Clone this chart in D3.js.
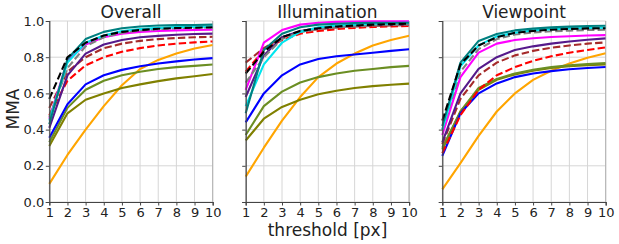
<!DOCTYPE html>
<html><head><meta charset="utf-8">
<script src="https://cdn.jsdelivr.net/npm/d3@7"></script>
<style>body{margin:0;background:#fff}svg{display:block}text{font-family:"DejaVu Sans",sans-serif;fill:#222}</style>
</head><body><svg id="c" width="619" height="244"></svg>
<script>
const thresholds = [1,2,3,4,5,6,7,8,9,10];
const yTicks = [0,0.2,0.4,0.6,0.8,1.0];
const panelTitles = ["Overall","Illumination","Viewpoint"];
const seriesNames = ["orange","olive","olivedrab","blue","red","brown","purple","magenta","gray","cyan","teal","black"];
const overall = [
 [0.10,0.26,0.40,0.53,0.645,0.735,0.785,0.82,0.848,0.867],
 [0.31,0.49,0.565,0.60,0.63,0.65,0.668,0.683,0.695,0.707],
 [0.33,0.52,0.62,0.67,0.70,0.72,0.735,0.745,0.752,0.76],
 [0.355,0.54,0.65,0.70,0.73,0.75,0.765,0.777,0.787,0.795],
 [0.48,0.67,0.755,0.80,0.83,0.85,0.865,0.875,0.882,0.887],
 [0.52,0.72,0.80,0.85,0.875,0.89,0.90,0.906,0.91,0.913],
 [0.41,0.70,0.82,0.87,0.895,0.91,0.918,0.924,0.928,0.93],
 [0.46,0.78,0.87,0.91,0.93,0.94,0.945,0.948,0.95,0.952],
 [0.47,0.74,0.86,0.91,0.935,0.948,0.955,0.96,0.963,0.965],
 [0.45,0.77,0.88,0.92,0.945,0.955,0.962,0.966,0.968,0.97],
 [0.43,0.79,0.90,0.94,0.96,0.97,0.975,0.977,0.978,0.98],
 [0.57,0.80,0.88,0.92,0.94,0.95,0.957,0.961,0.963,0.965]
];
const illumination = [
 [0.14,0.30,0.45,0.58,0.69,0.765,0.82,0.865,0.895,0.918],
 [0.34,0.46,0.525,0.565,0.595,0.615,0.63,0.64,0.648,0.654],
 [0.37,0.53,0.61,0.66,0.69,0.71,0.725,0.735,0.745,0.752],
 [0.44,0.60,0.70,0.76,0.79,0.805,0.815,0.825,0.835,0.844],
 [0.72,0.84,0.895,0.93,0.945,0.955,0.962,0.967,0.97,0.973],
 [0.77,0.85,0.91,0.94,0.955,0.965,0.97,0.973,0.975,0.978],
 [0.58,0.81,0.91,0.945,0.96,0.97,0.975,0.978,0.98,0.982],
 [0.62,0.88,0.95,0.98,0.99,0.995,0.997,0.998,0.998,0.998],
 [0.66,0.80,0.90,0.94,0.955,0.965,0.97,0.975,0.978,0.98],
 [0.53,0.76,0.88,0.94,0.965,0.975,0.98,0.985,0.987,0.99],
 [0.49,0.84,0.93,0.965,0.98,0.985,0.988,0.99,0.99,0.99],
 [0.71,0.83,0.91,0.945,0.96,0.97,0.975,0.98,0.983,0.985]
];
const viewpoint = [
 [0.07,0.215,0.365,0.50,0.60,0.675,0.725,0.765,0.797,0.822],
 [0.29,0.50,0.62,0.675,0.705,0.725,0.74,0.75,0.756,0.76],
 [0.30,0.50,0.63,0.68,0.71,0.73,0.745,0.755,0.762,0.767],
 [0.255,0.49,0.60,0.655,0.69,0.71,0.723,0.733,0.74,0.746],
 [0.27,0.48,0.62,0.70,0.745,0.78,0.805,0.825,0.84,0.854],
 [0.32,0.57,0.70,0.77,0.81,0.835,0.852,0.865,0.875,0.882],
 [0.33,0.60,0.735,0.80,0.84,0.86,0.875,0.887,0.896,0.904],
 [0.37,0.69,0.825,0.875,0.895,0.905,0.912,0.916,0.92,0.922],
 [0.40,0.72,0.845,0.90,0.925,0.937,0.943,0.947,0.95,0.952],
 [0.40,0.75,0.865,0.915,0.935,0.948,0.955,0.959,0.961,0.963],
 [0.42,0.77,0.89,0.928,0.948,0.958,0.965,0.969,0.972,0.974],
 [0.45,0.76,0.865,0.91,0.935,0.945,0.952,0.956,0.959,0.96]
];
const panelData = [overall, illumination, viewpoint];

const styles = {
 orange:{c:"#ffa500",d:null}, olive:{c:"#808000",d:null}, olivedrab:{c:"#6b8e23",d:null},
 blue:{c:"#0000ff",d:null}, red:{c:"#ff0000",d:"7.4,3.2"}, brown:{c:"#a52a2a",d:"7.4,3.2"},
 purple:{c:"#551a8b",d:null}, magenta:{c:"#ff00ff",d:null}, gray:{c:"#808080",d:"7.4,3.2"},
 cyan:{c:"#00e5ee",d:null}, teal:{c:"#008080",d:null}, black:{c:"#000000",d:"7.4,3.2"}
};

const svg = d3.select("#c");
const panelX = [49.3, 245.7, 442.3];
const pw = 163.4, plotTop = 21, plotBottom = 202;
const y = d3.scaleLinear().domain([0,1]).range([plotBottom, plotTop]);

panelX.forEach((px, i) => {
  const x = d3.scaleLinear().domain([1,10]).range([px, px+pw]);
  const g = svg.append("g");
  g.selectAll(".gx").data(thresholds).enter().append("line")
    .attr("x1", d=>x(d)).attr("x2", d=>x(d)).attr("y1", plotTop).attr("y2", plotBottom)
    .attr("stroke", "#d6d6d6").attr("stroke-width", 1);
  g.selectAll(".gy").data(yTicks).enter().append("line")
    .attr("x1", px).attr("x2", px+pw).attr("y1", d=>y(d)).attr("y2", d=>y(d))
    .attr("stroke", "#d6d6d6").attr("stroke-width", 1);
  g.append("line").attr("x1",px+pw).attr("x2",px+pw).attr("y1",plotTop).attr("y2",plotBottom).attr("stroke","#b0b0b0");
  const line = d3.line().x((d,j)=>x(thresholds[j])).y(d=>y(d));
  const clip = "clip"+i;
  svg.append("clipPath").attr("id",clip).append("rect").attr("x",px-2).attr("y",plotTop-2).attr("width",pw+2).attr("height",plotBottom-plotTop+2);
  const lg = g.append("g").attr("clip-path",`url(#${clip})`);
  panelData[i].forEach((vals, k) => {
    const s = styles[seriesNames[k]];
    lg.append("path").attr("d", line(vals)).attr("fill","none")
      .attr("stroke", s.c).attr("stroke-width", 2.1).attr("stroke-linejoin","round")
      .attr("stroke-dasharray", s.d);
  });
  const xa = d3.axisBottom(x).tickValues(thresholds).tickSize(3.5).tickPadding(2).tickFormat(d3.format("d"));
  const ga = g.append("g").attr("transform",`translate(0,${plotBottom})`).call(xa);
  ga.select(".domain").attr("stroke","#444").attr("stroke-width",1.2);
  ga.selectAll(".tick line").attr("stroke","#444");
  ga.selectAll("text").attr("font-size",13).attr("fill","#222").style("font-family","DejaVu Sans");
  const ya = d3.axisLeft(y).tickValues(yTicks).tickSize(3.5).tickPadding(1.5).tickFormat(i===0 ? d3.format(".1f") : ()=>"");
  const gy = g.append("g").attr("transform",`translate(${px},0)`).call(ya);
  gy.select(".domain").attr("stroke","#444").attr("stroke-width",1.2);
  gy.selectAll(".tick line").attr("stroke","#444");
  gy.selectAll("text").attr("font-size",13).attr("fill","#222").style("font-family","DejaVu Sans");
  g.append("text").attr("x", px+pw/2).attr("y", 17.5).attr("text-anchor","middle")
    .attr("font-size",17).text(panelTitles[i]);
});
svg.append("text").attr("transform","translate(19,109) rotate(-90)").attr("text-anchor","middle")
  .attr("font-size",17).text("MMA");
svg.append("text").attr("x", 327.5).attr("y", 236).attr("text-anchor","middle")
  .attr("font-size",17).text("threshold [px]");
</script></body></html>
